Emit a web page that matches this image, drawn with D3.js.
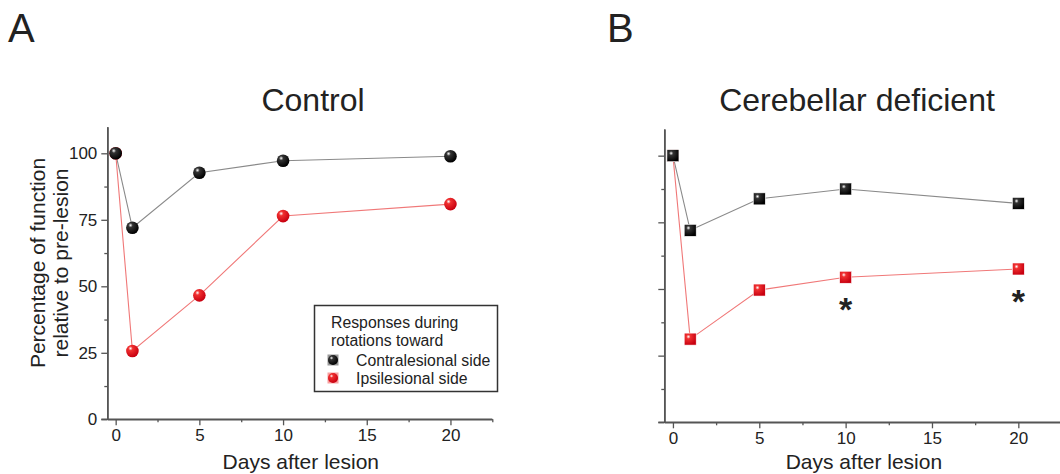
<!DOCTYPE html>
<html><head><meta charset="utf-8">
<script src="https://cdn.jsdelivr.net/npm/d3@7"></script>
<style>body{margin:0;background:#fff;} text{font-family:"Liberation Sans",Arial,sans-serif;fill:#222;}</style>
</head><body>
<svg id="c" width="1060" height="474"></svg>
<script>
const days = [0, 1, 5, 10, 20];
const controlContra = [100, 72, 92.7, 97.2, 98.9];
const controlIpsi = [100, 25.7, 46.6, 76.4, 80.9];
const cerebContra = [100, 72, 83.8, 87.5, 82.1];
const cerebIpsi = [100, 31.2, 49.6, 54.4, 57.5];
const starDays = [10, 20];
const starValues = [44.4, 47.4];
const xTicks = [0, 5, 10, 15, 20];
const yTicks = [0, 25, 50, 75, 100];
const legendTitle = ["Responses during", "rotations toward"];
const seriesNames = ["Contralesional side", "Ipsilesional side"];

const svg = d3.select("#c");
const defs = svg.append("defs");
function grad(id, base, dark){
  const g = defs.append("radialGradient").attr("id", id).attr("cx","35%").attr("cy","30%").attr("r","70%");
  g.append("stop").attr("offset","0%").attr("stop-color","#fff");
  g.append("stop").attr("offset","25%").attr("stop-color",base);
  g.append("stop").attr("offset","100%").attr("stop-color",dark);
}
grad("gBlack","#333","#000");
grad("gRed","#f03030","#c80010");

function panel(opts){
  const g = svg.append("g");
  const x = d3.scaleLinear().domain([-0.5, 22.5]).range(opts.xr);
  const y = d3.scaleLinear().domain([0, 110]).range(opts.yr);
  const xa = g.append("g").attr("transform",`translate(0,${opts.yr[0]})`)
    .call(d3.axisBottom(x).tickValues(xTicks).tickSize(6).tickSizeOuter(0).tickPadding(4));
  const xm = g.append("g").attr("transform",`translate(0,${opts.yr[0]})`)
    .call(d3.axisBottom(x).tickValues([2.5,7.5,12.5,17.5,22.5]).tickSize(3).tickFormat("").tickSizeOuter(0));
  const ya = g.append("g").attr("transform",`translate(${opts.xr[0]},0)`)
    .call(d3.axisLeft(y).tickValues(yTicks).tickSize(6).tickSizeOuter(0).tickPadding(4)
      .tickFormat(opts.yLabels ? d3.format("d") : ""));
  const ym = g.append("g").attr("transform",`translate(${opts.xr[0]},0)`)
    .call(d3.axisLeft(y).tickValues([12.5,37.5,62.5,87.5]).tickSize(3).tickFormat("").tickSizeOuter(0));
  [xa,xm,ya,ym].forEach(a=>{
    a.select(".domain").attr("stroke","#555").attr("stroke-width",1.6);
    a.selectAll(".tick line").attr("stroke","#555").attr("stroke-width",1.3);
    a.selectAll(".tick text").attr("font-size",17).attr("fill","#222").style("font-family",'"Liberation Sans",Arial,sans-serif');
  });
  xa.select(".domain").attr("d",`M${opts.xr[0]-6},0H${opts.xr[1]}`);
  const line = d3.line().x((d,i)=>x(days[i])).y(d=>y(d));
  g.append("path").datum(opts.contra).attr("d",line).attr("fill","none").attr("stroke","#8a8a8a").attr("stroke-width",1.1);
  g.append("path").datum(opts.ipsi).attr("d",line).attr("fill","none").attr("stroke","#f07878").attr("stroke-width",1.1);
  function markers(data, fill){
    if(opts.square){
      g.selectAll(null).data(data).enter().append("rect")
        .attr("x",(d,i)=>x(days[i])-6).attr("y",d=>y(d)-6).attr("width",12).attr("height",12)
        .attr("fill",fill).attr("stroke","#fff").attr("stroke-width",0.6);
    } else {
      g.selectAll(null).data(data).enter().append("circle")
        .attr("cx",(d,i)=>x(days[i])).attr("cy",d=>y(d)).attr("r",6.3).attr("fill",fill);
    }
  }
  markers(opts.ipsi, "url(#gRed)");
  markers(opts.contra, "url(#gBlack)");
  g.append("text").attr("x",(opts.xr[0]+opts.xr[1])/2 + 1).attr("y",469).attr("text-anchor","middle")
    .attr("font-size",21).text("Days after lesion");
  g.append("text").attr("x",opts.titleX).attr("y",111).attr("text-anchor","middle")
    .attr("font-size",32).text(opts.title);
  g.append("text").attr("x",opts.letterX).attr("y",42).attr("font-size",40).text(opts.letter);
  return {g,x,y};
}

const A = panel({xr:[107.3,492.3], yr:[419.3,126.7], yLabels:true, contra:controlContra, ipsi:controlIpsi,
  title:"Control", titleX:313, letter:"A", letterX:8});
const B = panel({xr:[664.3,1061.5], yr:[422.3,129], yLabels:false, contra:cerebContra, ipsi:cerebIpsi,
  title:"Cerebellar deficient", titleX:857, letter:"B", letterX:607, square:true});

const yl = svg.append("text").attr("transform","translate(0,263) rotate(-90)").attr("text-anchor","middle").attr("font-size",21);
yl.append("tspan").attr("x",0).attr("y",45).text("Percentage of function");
yl.append("tspan").attr("x",0).attr("y",68).text("relative to pre-lesion");

B.g.selectAll(null).data(starDays).enter().append("text")
  .attr("x",d=>B.x(d)).attr("y",(d,i)=>B.y(starValues[i])+17).attr("text-anchor","middle")
  .attr("font-size",34).attr("font-weight","bold").text("*");

const lg = svg.append("g");
lg.append("rect").attr("x",314.5).attr("y",305.5).attr("width",183).attr("height",86)
  .attr("fill","#fff").attr("stroke","#333").attr("stroke-width",1.5);
legendTitle.forEach((t,i)=>lg.append("text").attr("x",331).attr("y",328+i*18).attr("font-size",15.8).text(t));
const lmk = ["url(#gBlack)","url(#gRed)"];
seriesNames.forEach((t,i)=>{
  lg.append("rect").attr("x",327.5).attr("y",354.5+i*18).attr("width",11).attr("height",11).attr("fill",i?"#f8a0a0":"#999");
  lg.append("circle").attr("cx",333).attr("cy",360+i*18).attr("r",5).attr("fill",lmk[i]);
  lg.append("text").attr("x",356).attr("y",366+i*18).attr("font-size",15.8).text(t);
});
</script>
</body></html>
